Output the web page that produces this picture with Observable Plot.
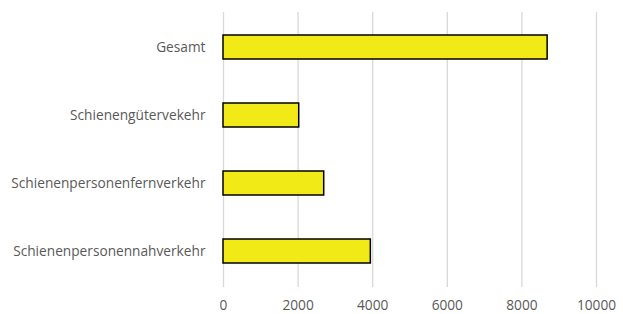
<!DOCTYPE html>
<html><head><meta charset="utf-8">
<script src="https://cdn.jsdelivr.net/npm/d3@7"></script>
<script src="https://cdn.jsdelivr.net/npm/@observablehq/plot@0.6"></script>
<style>body{margin:0;background:#fff}</style>
</head><body><div id="chart"></div>
<script>
const categories = ["Gesamt", "Schienengütervekehr", "Schienenpersonenfernverkehr", "Schienenpersonennahverkehr"];
const values = [8690, 2030, 2700, 3950];
const xTicks = [0, 2000, 4000, 6000, 8000, 10000];
const data = categories.map((c, i) => ({category: c, value: values[i]}));

const chart = Plot.plot({
  width: 623, height: 314,
  marginLeft: 223, marginRight: 27, marginTop: 12, marginBottom: 27,
  style: {fontFamily: "'Open Sans', sans-serif", fontSize: "13.7px", color: "#595959", background: "#fff", overflow: "visible"},
  x: {domain: [0, 10000], ticks: xTicks, tickFormat: d => String(d), label: null, grid: false},
  y: {domain: categories, label: null, paddingInner: 0.64, paddingOuter: 0.32},
  marks: [
    Plot.ruleX(xTicks, {stroke: "#d9d9d9", strokeWidth: 1.3}),
    Plot.barX(data, {x: "value", y: "category", fill: "#f2ea16", stroke: "#000", strokeWidth: 1.5}),
    Plot.axisX({ticks: xTicks, tickFormat: d => String(d), tickSize: 0, tickPadding: 13, label: null, fontSize: 13.7}),
    Plot.axisY({tickSize: 0, tickPadding: 18, label: null, fontSize: 13.7})
  ]
});
document.getElementById("chart").appendChild(chart);
</script></body></html>
